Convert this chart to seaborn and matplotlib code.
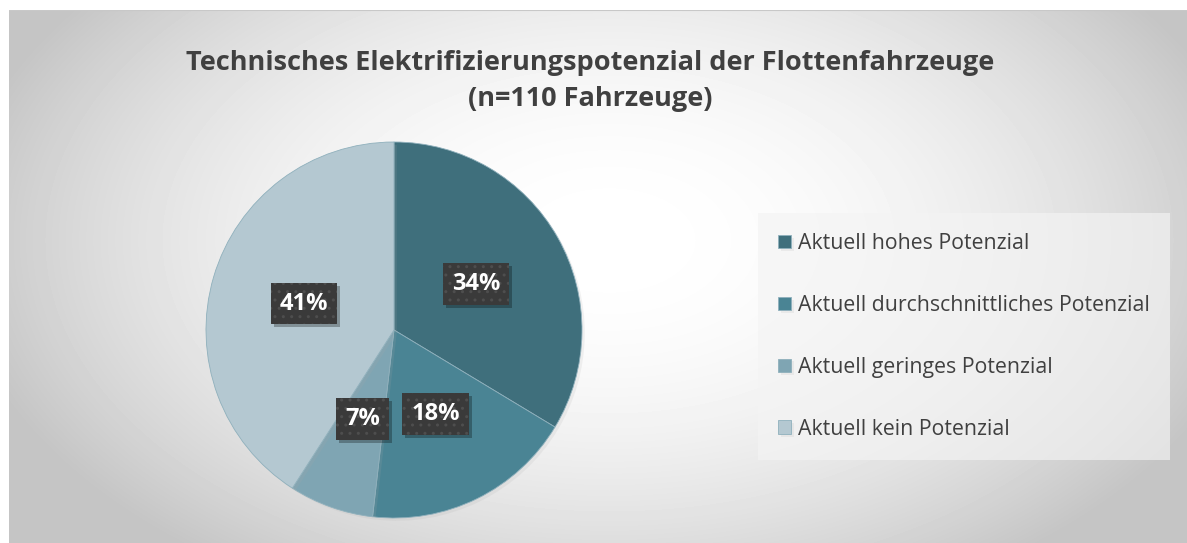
import matplotlib
matplotlib.use('Agg')
import matplotlib.pyplot as plt
import matplotlib.patheffects as pe
from matplotlib.patches import Rectangle
import seaborn as sns
import numpy as np

# data (n=110 vehicles)
categories = ['Aktuell hohes Potenzial', 'Aktuell durchschnittliches Potenzial',
              'Aktuell geringes Potenzial', 'Aktuell kein Potenzial']
counts = [37, 20, 8, 45]
colors = ['#3f6f7c', '#4a8494', '#7fa5b3', '#b4c8d1']

title = 'Technisches Elektrifizierungspotenzial der Flottenfahrzeuge\n(n=110 Fahrzeuge)'

sns.set_style('white')
plt.rcParams['font.family'] = ['Open Sans', 'DejaVu Sans']

W, H = 1187, 543
fig = plt.figure(figsize=(W / 100, H / 100), dpi=100, facecolor='white')

# radial gradient background of the chart area
bg = fig.add_axes([9 / W, 0, (W - 9) / W, (H - 10) / H])
yy, xx = np.mgrid[0:533, 0:1178]
d = np.sqrt(((xx - 600) / 660.0) ** 2 + ((yy - 230) / 400.0) ** 2)
shade = np.clip(1.0 - 0.23 * d ** 2, 0.77, 1.0)
bg.imshow(shade, cmap='gray', vmin=0, vmax=1, aspect='auto', extent=[0, 1, 0, 1], origin='upper')
bg.axhline(1, color='#c8c8c8', lw=1.5)
bg.set_axis_off()

# pie
cx, cy, r = 394, 330, 188
ax = fig.add_axes([(cx - r) / W, (H - cy - r) / H, 2 * r / W, 2 * r / H])
wedges, texts, autotexts = ax.pie(
    counts, colors=colors, startangle=90, counterclock=False,
    autopct=lambda p: f'{p:.0f}%', pctdistance=0.5,
    wedgeprops=dict(linewidth=0.6, edgecolor='#8fb0bc'),
    textprops=dict(color='white', fontsize=17, fontweight='bold'))
for w in wedges:
    w.set_path_effects([pe.SimplePatchShadow(offset=(2, -2), shadow_rgbFace='#aaaaaa', alpha=0.15),
                        pe.Normal()])
ax.set_xlim(-1, 1)
ax.set_ylim(-1, 1)
ax.set_aspect('equal')
ax.set_axis_off()

for t in autotexts:
    t.set_bbox(dict(boxstyle='square,pad=0.38', facecolor='#3a3a3a', edgecolor='#4e4e4e',
                    hatch='..', linewidth=0))

# drop shadows behind the label boxes (between wedges and labels)
fig.canvas.draw()
for t in autotexts:
    ext = t.get_bbox_patch().get_window_extent()
    shadow = Rectangle((ext.x0 + 3, ext.y0 - 3), ext.width, ext.height,
                       transform=None, facecolor='black', alpha=0.28,
                       edgecolor='none', zorder=2, clip_on=False)
    ax.add_artist(shadow)

# title
fig.text(0.497, 1 - 81 / H, title, ha='center', va='center', fontsize=19.5,
         fontweight='bold', color='#404040', linespacing=1.45)

# legend
leg = fig.legend(wedges, categories, loc='upper left',
                 bbox_to_anchor=(758 / W, 1 - 213 / H), borderaxespad=0,
                 frameon=True, fancybox=False, fontsize=15.3, labelcolor='#404040',
                 handlelength=0.6, handleheight=0.6, handletextpad=0.35,
                 labelspacing=1.92, borderpad=0.95)
frame = leg.get_frame()
frame.set_facecolor('#f4f4f4')
frame.set_alpha(0.65)
frame.set_edgecolor('none')

fig.savefig('out.png', dpi=100, facecolor='white')
